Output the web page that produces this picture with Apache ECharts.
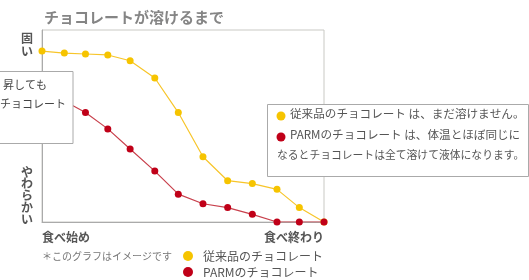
<!DOCTYPE html>
<html>
<head>
<meta charset="utf-8">
<script src="https://cdn.jsdelivr.net/npm/echarts@6/dist/echarts.min.js"></script>
<style>
  html, body { margin: 0; padding: 0; background: #fff; }
  #chart { width: 529px; height: 280px; }
</style>
</head>
<body>
<div id="chart"></div>
<script>
// 時間（食べ始め → 食べ終わり）
const timePoints = [0, 0.95, 1.85, 2.8, 3.75, 4.8, 5.8, 6.85, 7.9, 8.95, 10, 10.95, 12];
// 固さ（100 = 固い, 0 = やわらかい）
const regularChoco = [89, 88, 87.5, 87, 84, 75, 57, 34, 21.5, 20, 17, 7.5, 0];
const parmChoco = [69, 63, 57, 48.5, 38, 26.5, 14.5, 9.5, 7.5, 4, 0, 0, 0];
const seriesNames = ['従来品のチョコレート', 'PARMのチョコレート'];
const xEndLabels = ['食べ始め', '食べ終わり'];

const font = '"Noto Sans CJK JP", sans-serif';
const yellow = '#f6c400';
const red = '#c00018';

const chart = echarts.init(document.getElementById('chart'));

const toPairs = (ys) => ys.map((y, i) => [timePoints[i], y]);

const option = {
  animation: false,
  textStyle: { fontFamily: font },
  title: {
    text: 'チョコレートが溶けるまで',
    left: 39,
    top: 5,
    textStyle: { fontSize: 15, fontWeight: 'bold', color: '#858585', fontFamily: font }
  },
  grid: {
    left: 42, top: 30, right: 205, bottom: 58,
    show: true,
    borderColor: '#c9c9c4',
    borderWidth: 1
  },
  legend: {
    orient: 'vertical',
    left: 183,
    top: 250,
    padding: 0,
    itemGap: 4,
    icon: 'circle',
    itemWidth: 10,
    itemHeight: 10,
    textStyle: { fontSize: 12, color: '#555', padding: [0, 0, 0, 5] },
    data: seriesNames
  },
  xAxis: {
    type: 'value',
    min: 0,
    max: 12,
    interval: 12,
    axisLine: { lineStyle: { color: '#aaa' } },
    axisTick: { show: false },
    splitLine: { show: false },
    axisLabel: {
      margin: 9,
      fontSize: 12,
      fontWeight: 'bold',
      color: '#555',
      alignMinLabel: 'left',
      alignMaxLabel: 'right',
      formatter: (v) => v === 0 ? xEndLabels[0] : (v === 12 ? xEndLabels[1] : '')
    }
  },
  yAxis: {
    type: 'value',
    min: 0,
    max: 100,
    axisLine: { show: true, lineStyle: { color: '#aaa' } },
    axisTick: { show: false },
    axisLabel: { show: false },
    splitLine: { show: false }
  },
  series: [
    {
      name: seriesNames[0],
      type: 'line',
      data: toPairs(regularChoco),
      symbol: 'circle',
      symbolSize: 7,
      lineStyle: { color: '#f7c52a', width: 1.2 },
      itemStyle: { color: yellow }
    },
    {
      name: seriesNames[1],
      type: 'line',
      data: toPairs(parmChoco),
      symbol: 'circle',
      symbolSize: 7,
      lineStyle: { color: '#c8404c', width: 1.2 },
      itemStyle: { color: red }
    }
  ],
  graphic: [
    // 縦書きの軸ラベル
    {
      type: 'text', left: 21, top: 32, z: 50,
      style: { text: '固\nい', font: 'bold 12px ' + font, fill: '#555', lineHeight: 13 }
    },
    {
      type: 'text', left: 21, top: 166, z: 50,
      style: { text: 'や\nわ\nら\nか\nい', font: 'bold 12px ' + font, fill: '#555', lineHeight: 11.8 }
    },
    {
      type: 'text', left: 42, top: 251, z: 50,
      style: { text: '＊このグラフはイメージです', font: '10px ' + font, fill: '#777' }
    },
    // 左の説明ボックス（一部のみ表示）
    {
      type: 'rect', z: 100,
      shape: { x: -5, y: 71.5, width: 78, height: 72 },
      style: { fill: '#fff', stroke: '#aaa', lineWidth: 1 }
    },
    {
      type: 'text', z: 101, x: 3, y: 79,
      style: { text: '昇しても', font: '11px ' + font, fill: '#444' }
    },
    {
      type: 'text', z: 101, x: 0, y: 98,
      style: { text: 'チョコレート', font: '11px ' + font, fill: '#444' }
    },
    // 右の説明ボックス
    {
      type: 'rect', z: 100,
      shape: { x: 267.5, y: 104.5, width: 261, height: 72 },
      style: { fill: '#fff', stroke: '#aaa', lineWidth: 1 }
    },
    {
      type: 'circle', z: 101,
      shape: { cx: 281, cy: 116, r: 4.5 },
      style: { fill: yellow }
    },
    {
      type: 'text', z: 101, x: 290, y: 108,
      style: { text: '従来品のチョコレート は、まだ溶けません。', font: '11.6px ' + font, fill: '#555' }
    },
    {
      type: 'circle', z: 101,
      shape: { cx: 281, cy: 137, r: 4.5 },
      style: { fill: red }
    },
    {
      type: 'text', z: 101, x: 290, y: 129,
      style: { text: 'PARMのチョコレート は、体温とほぼ同じに', font: '11.6px ' + font, fill: '#555' }
    },
    {
      type: 'text', z: 101, x: 277, y: 150,
      style: { text: 'なるとチョコレートは全て溶けて液体になります。', font: '10.8px ' + font, fill: '#555' }
    }
  ]
};

chart.setOption(option);
</script>
</body>
</html>
